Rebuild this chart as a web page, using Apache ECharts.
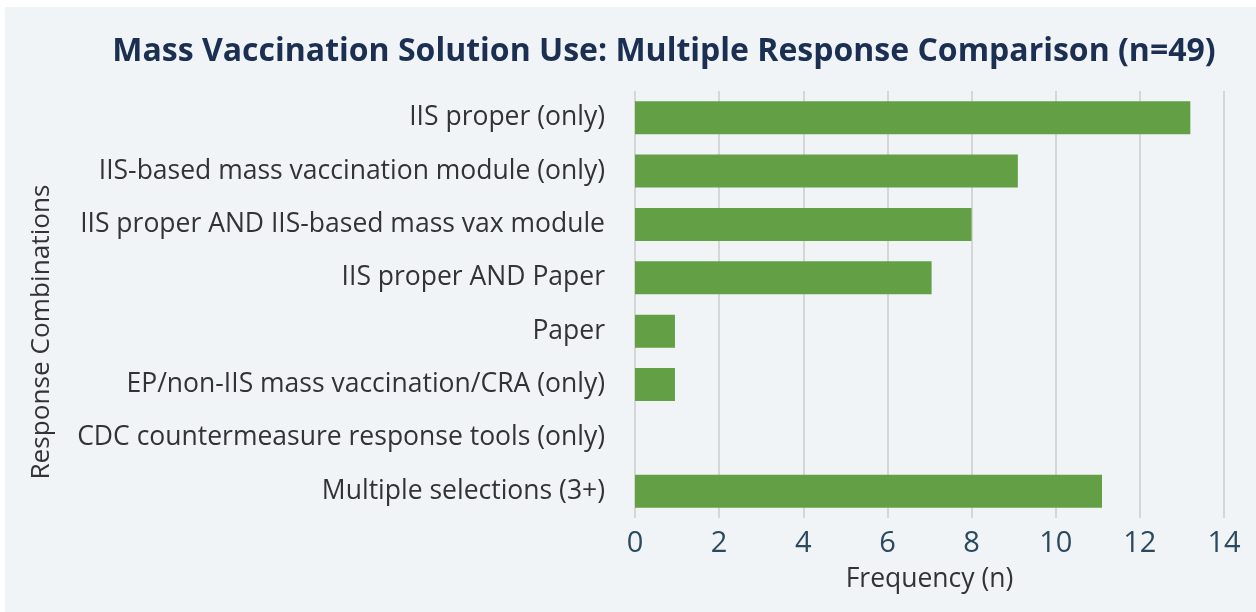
<!DOCTYPE html>
<html><head><meta charset="utf-8">
<script src="https://cdn.jsdelivr.net/npm/echarts@6/dist/echarts.min.js"></script>
<style>html,body{margin:0;padding:0;background:#fff}#c{width:1256px;height:612px}</style>
</head><body><div id="c"></div>
<script>
const categories = [
  "IIS proper (only)",
  "IIS-based mass vaccination module (only)",
  "IIS proper AND IIS-based mass vax module",
  "IIS proper AND Paper",
  "Paper",
  "EP/non-IIS mass vaccination/CRA (only)",
  "CDC countermeasure response tools (only)",
  "Multiple selections (3+)"
];
const values = [13.2, 9.1, 8, 7.05, 0.95, 0.95, 0, 11.1];
const xTicks = [0, 2, 4, 6, 8, 10, 12, 14];

const chart = echarts.init(document.getElementById('c'), null, {renderer: 'canvas'});
chart.setOption({
  backgroundColor: '#ffffff',
  graphic: [
    {type: 'rect', z: -10, shape: {x: 5, y: 7, width: 1251, height: 605}, style: {fill: '#f0f4f6'}},
    {type: 'text', x: 42, y: 332, rotation: Math.PI / 2,
      style: {text: 'Response Combinations', fontFamily: 'Open Sans', fontSize: 26.2, fill: '#333',
        textAlign: 'center', textVerticalAlign: 'middle'}}
  ],
  title: {
    text: 'Mass Vaccination Solution Use: Multiple Response Comparison (n=49)',
    left: 659, top: 31, textAlign: 'center',
    textStyle: {fontFamily: 'Open Sans', fontWeight: 'bold', fontSize: 32, color: '#1b2f52'}
  },
  grid: {left: 635, right: 32, top: 91, bottom: 94},
  xAxis: {
    type: 'value', min: 0, max: 14, interval: 2,
    name: 'Frequency (n)', nameLocation: 'middle', nameGap: 48,
    nameTextStyle: {fontFamily: 'Open Sans', fontSize: 26.5, color: '#333'},
    axisLine: {show: false}, axisTick: {show: false},
    axisLabel: {fontFamily: 'Open Sans', fontSize: 29, color: '#2c4a5e', margin: 11,
      formatter: v => xTicks.includes(v) ? String(v) : ''},
    splitLine: {show: true, lineStyle: {color: '#cccccc', width: 1.5}}
  },
  yAxis: {
    type: 'category', data: categories, inverse: true,
    axisLine: {show: false}, axisTick: {show: false},
    axisLabel: {fontFamily: 'Open Sans', fontSize: 26.5, color: '#333', margin: 30}
  },
  series: [{
    type: 'bar', data: values, barCategoryGap: '38%',
    itemStyle: {color: '#639f45'}
  }]
});
</script></body></html>
